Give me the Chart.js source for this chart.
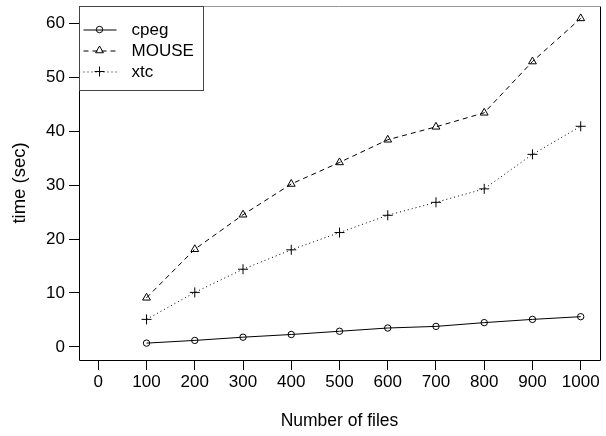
<!DOCTYPE html>
<html>
<head>
<meta charset="utf-8">
<script src="https://cdn.jsdelivr.net/npm/chart.js@4"></script>
<style>
  html, body { margin: 0; padding: 0; background: #fff; }
  canvas { display: block; }
</style>
</head>
<body>
<canvas id="chart" width="606" height="436"></canvas>
<script>
// data
const files = [100, 200, 300, 400, 500, 600, 700, 800, 900, 1000];
const cpeg = [0.7, 1.2, 1.8, 2.3, 2.9, 3.5, 3.8, 4.5, 5.1, 5.6];
const mouse = [9.1, 18.1, 24.5, 30.2, 34.2, 38.4, 40.8, 43.4, 52.9, 60.9];
const xtc = [5.1, 10.1, 14.4, 18.0, 21.2, 24.4, 26.8, 29.3, 35.7, 40.9];
const xTicks = [0, 100, 200, 300, 400, 500, 600, 700, 800, 900, 1000];
const yTicks = [0, 10, 20, 30, 40, 50, 60];

const FONT = "'Liberation Sans', Arial, Helvetica, sans-serif";

const pts = (ys) => files.map((x, i) => ({ x: x, y: ys[i] }));

// R-like plot box plus a boxed legend in the top-left corner
const boxPlugin = {
  id: 'rbox',
  afterDraw(chart) {
    const { ctx, chartArea: a } = chart;
    ctx.save();
    ctx.lineWidth = 1;
    ctx.strokeStyle = '#000';
    ctx.beginPath();
    ctx.moveTo(a.left + 0.5, a.top + 0.5);
    ctx.lineTo(a.left + 0.5, a.bottom + 0.5);
    ctx.lineTo(a.right + 0.5, a.bottom + 0.5);
    ctx.lineTo(a.right + 0.5, a.top + 0.5);
    ctx.stroke();
    ctx.strokeStyle = '#999';
    ctx.beginPath();
    ctx.moveTo(a.left, a.top + 0.5);
    ctx.lineTo(a.right, a.top + 0.5);
    ctx.stroke();

    // legend
    const lx = a.left + 0.5, ly = a.top + 0.5, lw = 124, lh = 84;
    ctx.fillStyle = '#fff';
    ctx.fillRect(lx, ly, lw, lh);
    ctx.strokeStyle = '#444';
    ctx.strokeRect(lx, ly, lw, lh);
    ctx.font = '17px ' + FONT;
    ctx.textBaseline = 'middle';
    ctx.textAlign = 'left';
    chart.data.datasets.forEach((ds, i) => {
      const yy = ly + 23 + i * 21;
      ctx.strokeStyle = '#000';
      ctx.setLineDash(ds.borderDash || []);
      ctx.beginPath();
      ctx.moveTo(lx + 4, yy + 0.5);
      ctx.lineTo(lx + 37, yy + 0.5);
      ctx.stroke();
      ctx.setLineDash([]);
      ctx.fillStyle = 'rgba(0,0,0,0)';
      Chart.helpers.drawPoint(ctx, {
        pointStyle: ds.pointStyle, radius: ds.pointRadius, borderWidth: 1
      }, lx + 20, yy);
      ctx.fillStyle = '#000';
      ctx.fillText(ds.label, lx + 52, yy + 1);
    });
    ctx.restore();
  }
};

const tickSetter = (vals) => (axis) => { axis.ticks = vals.map(v => ({ value: v })); };

new Chart(document.getElementById('chart'), {
  type: 'line',
  data: {
    datasets: [
      {
        label: 'cpeg', data: pts(cpeg),
        borderColor: '#000', borderWidth: 1, backgroundColor: 'rgba(0,0,0,0)',
        pointStyle: 'circle', pointRadius: 3.2, pointBorderColor: '#000',
        pointBackgroundColor: 'rgba(0,0,0,0)', pointBorderWidth: 1
      },
      {
        label: 'MOUSE', data: pts(mouse),
        borderColor: '#000', borderWidth: 1, borderDash: [5, 4], backgroundColor: 'rgba(0,0,0,0)',
        pointStyle: 'triangle', pointRadius: 4.5, pointBorderColor: '#000',
        pointBackgroundColor: 'rgba(0,0,0,0)', pointBorderWidth: 1
      },
      {
        label: 'xtc', data: pts(xtc),
        borderColor: '#000', borderWidth: 1, borderDash: [1, 3], backgroundColor: 'rgba(0,0,0,0)',
        pointStyle: 'cross', pointRadius: 5, pointBorderColor: '#000',
        pointBackgroundColor: 'rgba(0,0,0,0)', pointBorderWidth: 1
      }
    ]
  },
  options: {
    responsive: false,
    animation: false,
    devicePixelRatio: 1,
    layout: { padding: { top: 5, right: 2, left: 0, bottom: 0 } },
    plugins: { legend: { display: false }, tooltip: { enabled: false } },
    scales: {
      x: {
        type: 'linear', min: -40, max: 1040,
        afterBuildTicks: tickSetter(xTicks),
        afterFit: (s) => { s.height = 76; s.paddingLeft = 0; s.paddingRight = 0; },
        grid: { drawOnChartArea: false, drawTicks: true, tickLength: 10, color: '#000' },
        border: { display: false },
        ticks: {
          color: '#000', padding: 2, maxRotation: 0, autoSkip: false,
          font: { family: FONT, size: 17 }, callback: (v) => String(v)
        },
        title: { display: true, text: 'Number of files', color: '#000', padding: { top: 0, bottom: 4 }, font: { family: FONT, size: 17.5 } }
      },
      y: {
        type: 'linear', min: -2.43, max: 63.2,
        afterBuildTicks: tickSetter(yTicks),
        afterFit: (s) => { s.width = 79; s.paddingTop = 0; s.paddingBottom = 0; },
        grid: { drawOnChartArea: false, drawTicks: true, tickLength: 10, color: '#000' },
        border: { display: false },
        ticks: {
          color: '#000', padding: 4, autoSkip: false,
          font: { family: FONT, size: 17 }, callback: (v) => String(v)
        },
        title: { display: true, text: 'time (sec)', color: '#000', padding: { top: 9, bottom: 0 }, font: { family: FONT, size: 18.5 } }
      }
    }
  },
  plugins: [boxPlugin]
});
</script>
</body>
</html>
